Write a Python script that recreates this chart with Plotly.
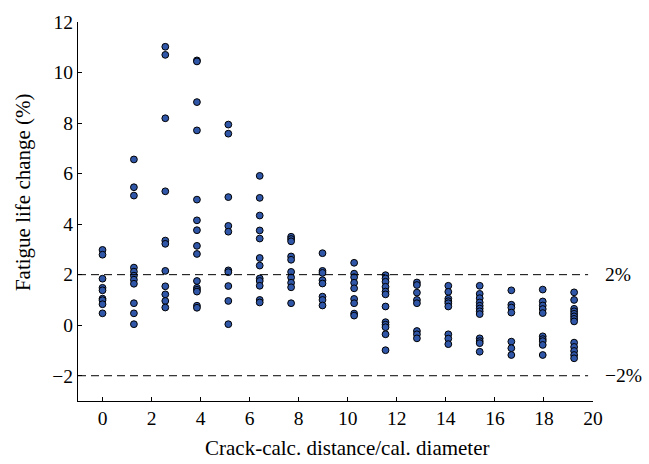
import plotly.graph_objects as go

# Column positions (crack-calc. distance / cal. diameter)
positions = [0, 1.28, 2.56, 3.85, 5.13, 6.41, 7.69, 8.97, 10.26, 11.54,
             12.82, 14.10, 15.38, 16.67, 17.95, 19.23]

# Fatigue life change (%) values per column
col0 = [2.98, 2.79, 1.84, 1.48, 1.38, 1.05, 0.99, 0.83, 0.47]
col1 = [6.56, 5.46, 5.13, 2.28, 2.12, 1.96, 1.80, 1.64, 0.87, 0.47, 0.04]
col2 = [11.02, 10.70, 8.19, 5.30, 3.35, 3.22, 2.15, 1.54, 1.22, 0.96, 0.70]
col3 = [10.48, 10.44, 8.83, 7.71, 4.97, 4.15, 3.76, 3.14, 2.82, 1.75, 1.48,
        1.40, 1.33, 0.77, 0.69]
col4 = [7.94, 7.58, 5.07, 3.93, 3.70, 2.17, 2.10, 1.55, 0.96, 0.04]
col5 = [5.91, 5.04, 4.34, 3.75, 3.43, 2.66, 2.36, 1.85, 1.75, 1.56, 1.00, 0.90]
col6 = [3.50, 3.41, 3.32, 2.72, 2.59, 2.11, 1.89, 1.68, 1.50, 0.87]
col7 = [2.85, 2.15, 2.07, 1.78, 1.65, 1.13, 1.00, 0.78]
col8 = [2.47, 2.04, 1.90, 1.68, 1.46, 1.04, 0.87, 0.46, 0.38]
col9 = [1.98, 1.85, 1.72, 1.52, 1.33, 1.22, 0.74, 0.12, 0.02, -0.08, -0.36, -0.99]
col10 = [1.69, 1.59, 1.29, 1.00, 0.87, -0.23, -0.36, -0.52]
col11 = [1.56, 1.32, 1.05, 0.95, 0.87, 0.74, -0.36, -0.53, -0.75]
col12 = [1.56, 1.24, 1.07, 0.90, 0.77, 0.66, 0.55, 0.44, -0.52, -0.63, -0.71, -1.05]
col13 = [1.38, 0.81, 0.70, 0.50, -0.65, -0.91, -1.18]
col14 = [1.41, 0.94, 0.78, 0.64, 0.48, -0.44, -0.55, -0.63, -0.78, -1.18]
col15 = [1.30, 1.00, 0.65, 0.55, 0.45, 0.35, 0.25, 0.15, -0.69, -0.86, -1.02,
         -1.18, -1.31]

columns = [col0, col1, col2, col3, col4, col5, col6, col7, col8, col9,
           col10, col11, col12, col13, col14, col15]

limit_lines = [2, -2]
limit_labels = ["2%", "\u22122%"]

x_ticks = [0, 2, 4, 6, 8, 10, 12, 14, 16, 18, 20]
y_ticks = [-2, 0, 2, 4, 6, 8, 10, 12]

x_title = "Crack-calc. distance/cal. diameter"
y_title = "Fatigue life change (%)"

xs, ys = [], []
for p, vals in zip(positions, columns):
    for v in vals:
        xs.append(p)
        ys.append(v)

font = dict(family="Liberation Serif", size=19.5, color="black")
title_font = dict(family="Liberation Serif", size=21, color="black")

fig = go.Figure()
fig.add_trace(go.Scatter(
    x=xs, y=ys, mode="markers",
    marker=dict(size=6.8, color="#3056A8", line=dict(color="black", width=1)),
    showlegend=False, cliponaxis=False,
))

for yv, lab in zip(limit_lines, limit_labels):
    fig.add_shape(type="line", xref="x", yref="y", x0=-1, x1=19.8, y0=yv, y1=yv,
                  line=dict(color="black", width=1, dash="8px,5px"))
    fig.add_annotation(xref="paper", yref="y", x=1.02, y=yv, text=lab,
                       showarrow=False, font=font, xanchor="left", yanchor="middle")

fig.add_annotation(xref="x", yref="paper", x=10, y=-0.125, text=x_title,
                   showarrow=False, font=title_font, xanchor="center", yanchor="middle")
fig.add_annotation(xref="paper", yref="paper", x=-0.107, y=0.551, text=y_title,
                   textangle=-90, showarrow=False, font=title_font,
                   xanchor="center", yanchor="middle")

fig.update_layout(
    width=649, height=464,
    margin=dict(l=78, r=56, t=17, b=63),
    paper_bgcolor="white", plot_bgcolor="white",
    font=font,
    xaxis=dict(range=[-1, 20], tickvals=x_ticks, showgrid=False, zeroline=False,
               showline=True, linecolor="black", linewidth=1,
               ticks="inside", ticklen=4, tickcolor="black", tickfont=font),
    yaxis=dict(range=[-3, 12], tickvals=y_ticks, showgrid=False, zeroline=False,
               showline=True, linecolor="black", linewidth=1,
               ticks="inside", ticklen=4, tickcolor="black", tickfont=font),
)

fig.write_html("out.html", config={"displayModeBar": False},
               post_script="document.body.style.margin='0';document.body.style.overflow='hidden';")
